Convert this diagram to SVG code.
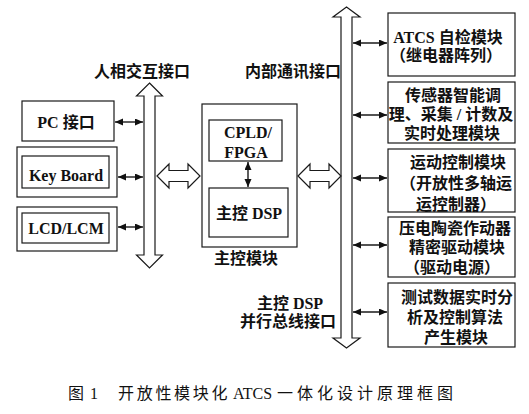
<svg xmlns="http://www.w3.org/2000/svg" width="529" height="414" viewBox="0 0 529 414">
<style>
.bx{fill:none;stroke:#1a1a1a;stroke-width:1.2}
.hol{fill:#fff;stroke:#1a1a1a;stroke-width:1.2;stroke-linejoin:miter}
.ln{stroke:#1a1a1a;stroke-width:1.4;fill:none;marker-start:url(#ah);marker-end:url(#ah)}
.t{font-family:"Liberation Serif","Noto Sans CJK SC",serif;font-size:16px;font-weight:bold;fill:#111;dominant-baseline:central;text-anchor:middle}
.c{font-family:"Liberation Serif","Noto Sans CJK SC",serif;font-size:16px;fill:#111;dominant-baseline:central}
</style>
<defs>
<marker id="ah" markerUnits="userSpaceOnUse" markerWidth="9" markerHeight="8" refX="8" refY="3.5" orient="auto-start-reverse">
<path d="M0,0 L8,3.5 L0,7 z" fill="#111"/>
</marker>
</defs>
<rect width="529" height="414" fill="#fff"/>

<g id="labels">
<text class="t" x="142" y="71">人相交互接口</text>
<text class="t" x="293" y="71">内部通讯接口</text>
<text class="t" x="246" y="258">主控模块</text>
<text class="t" x="290" y="303">主控 DSP</text>
<text class="t" x="288" y="321">并行总线接口</text>
</g>

<g id="bus-left">
<polygon class="hol" points="149.5,83 162.5,96 155,96 155,255 162.5,255 149.5,268 136.5,255 144,255 144,96 136.5,96"/>
</g>
<g id="bus-right">
<polygon class="hol" points="346.5,7 360,17 352,17 352,338 360,338 346.5,348 333,338 341,338 341,17 333,17"/>
</g>

<g id="pc">
<rect class="bx" x="22" y="101" width="92" height="40"/>
<text class="t" x="66" y="122">PC 接口</text>
</g>
<g id="keyboard">
<rect class="bx" x="17" y="147" width="100" height="50"/>
<rect class="bx" x="22" y="156" width="87" height="32"/>
<text class="t" x="66" y="175">Key Board</text>
</g>
<g id="lcd">
<rect class="bx" x="17" y="207" width="100" height="44"/>
<rect class="bx" x="22" y="213" width="87" height="30"/>
<text class="t" x="66" y="228">LCD/LCM</text>
</g>

<g id="main-module">
<rect class="bx" x="202" y="104" width="95" height="143"/>
<g id="cpld">
<rect class="bx" x="209" y="120" width="73" height="41"/>
<text class="t" x="248" y="132">CPLD/</text>
<text class="t" x="246" y="152">FPGA</text>
</g>
<g id="dsp">
<rect class="bx" x="209" y="188" width="79" height="49"/>
<text class="t" x="249" y="213">主控 DSP</text>
</g>
</g>

<g id="box-atcs">
<rect class="bx" x="388" y="13" width="127" height="63"/>
<text class="t" x="448" y="37">ATCS 自检模块</text>
<text class="t" x="446" y="55">（继电器阵列）</text>
</g>
<g id="box-sensor">
<rect class="bx" x="388" y="82" width="127" height="61"/>
<text class="t" x="453" y="95">传感器智能调</text>
<text class="t" x="451" y="114">理、采集 / 计数及</text>
<text class="t" x="452" y="133">实时处理模块</text>
</g>
<g id="box-motion">
<rect class="bx" x="388" y="149" width="127" height="63"/>
<text class="t" x="458" y="162">运动控制模块</text>
<text class="t" x="456" y="183">（开放性多轴运</text>
<text class="t" x="456" y="204">运控制器）</text>
</g>
<g id="box-piezo">
<rect class="bx" x="388" y="217" width="127" height="60"/>
<text class="t" x="455" y="228">压电陶瓷作动器</text>
<text class="t" x="457" y="247">精密驱动模块</text>
<text class="t" x="452" y="267">（驱动电源）</text>
</g>
<g id="box-test">
<rect class="bx" x="388" y="283" width="127" height="64"/>
<text class="t" x="457" y="297">测试数据实时分</text>
<text class="t" x="455" y="317">析及控制算法</text>
<text class="t" x="456" y="337">产生模块</text>
</g>

<g id="connectors">
<polygon class="hol" points="157,176 169,164 169,170.5 188,170.5 188,164 200,176 188,188 188,181.5 169,181.5 169,188"/>
<polygon class="hol" points="298,176 310,164 310,170.5 329,170.5 329,164 341,176 329,188 329,181.5 310,181.5 310,188"/>
<line class="ln" x1="115" y1="122" x2="143" y2="122"/>
<line class="ln" x1="118" y1="177" x2="143" y2="177"/>
<line class="ln" x1="118" y1="227" x2="143" y2="227"/>
<line class="ln" x1="248" y1="162" x2="248" y2="187"/>
<line class="ln" x1="353" y1="43" x2="387" y2="43"/>
<line class="ln" x1="353" y1="115" x2="387" y2="115"/>
<line class="ln" x1="353" y1="178" x2="387" y2="178"/>
<line class="ln" x1="353" y1="245" x2="387" y2="245"/>
<line class="ln" x1="353" y1="312" x2="387" y2="312"/>
</g>

<g id="caption">
<text class="c" x="68" y="393">图</text>
<text class="c" x="90" y="393">1</text>
<text class="c" x="118" y="393" letter-spacing="2.7">开放性模块化</text>
<text class="c" x="233" y="393">ATCS</text>
<text class="c" x="277" y="393" letter-spacing="4">一体化设计原理框图</text>
</g>
</svg>
